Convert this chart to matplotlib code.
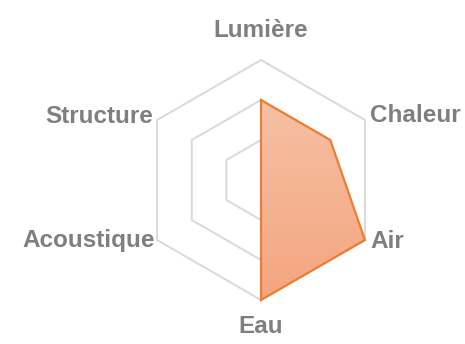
import matplotlib.pyplot as plt
import numpy as np
from matplotlib.colors import LinearSegmentedColormap
from matplotlib.patches import Polygon

# axes of the radar, clockwise from the top
categories = ['Lumière', 'Chaleur', 'Air', 'Eau', 'Acoustique', 'Structure']
values = [2, 2, 3, 3, 0, 0]
levels = [1, 2, 3]

plt.rcParams['font.family'] = ['Liberation Sans', 'DejaVu Sans']

fig = plt.figure(figsize=(4.65, 3.44), dpi=100)
ax = fig.add_axes([0, 0, 1, 1])
ax.set_xlim(-6.525, 5.1)
ax.set_ylim(-4.1, 4.5)
ax.set_aspect('equal')
ax.axis('off')

n = len(categories)
ang = np.arange(n) * 2 * np.pi / n
ux, uy = np.sin(ang), np.cos(ang)

# hexagonal grid rings
for lv in levels:
    ax.plot(np.append(ux, ux[0]) * lv, np.append(uy, uy[0]) * lv,
            color='#d9d9d9', lw=1.4, zorder=1)

v = np.array(values, dtype=float)
px, py = ux * v, uy * v
pts = np.column_stack([px, py])

# filled area with a light vertical gradient
poly = Polygon(pts, closed=True, facecolor='none', edgecolor='none')
ax.add_patch(poly)
cmap = LinearSegmentedColormap.from_list('orange', ['#f4a57f', '#f5c0a4'])
grad = np.linspace(0, 1, 256).reshape(-1, 1)
im = ax.imshow(grad, cmap=cmap, origin='lower', aspect='auto',
               extent=[px.min(), px.max(), py.min(), py.max()], zorder=2)
im.set_clip_path(poly)
ax.plot(np.append(px, px[0]), np.append(py, py[0]), color='#ed7d31',
        lw=1.6, solid_joinstyle='miter', zorder=3)

# category labels around the outer ring
R = levels[-1]
offsets = [(0, 0.58), (0.13, -0.04), (0.13, -0.2), (0, -0.83), (-0.05, -0.17), (-0.1, -0.07)]
aligns = ['center', 'left', 'left', 'center', 'right', 'right']
for i, lab in enumerate(categories):
    dx, dy = offsets[i]
    ax.text(ux[i] * R + dx, uy[i] * R + dy, lab, ha=aligns[i], va='baseline',
            fontsize=17.5, fontweight='bold', color='#7f7f7f')

fig.savefig('out.png', dpi=100)
